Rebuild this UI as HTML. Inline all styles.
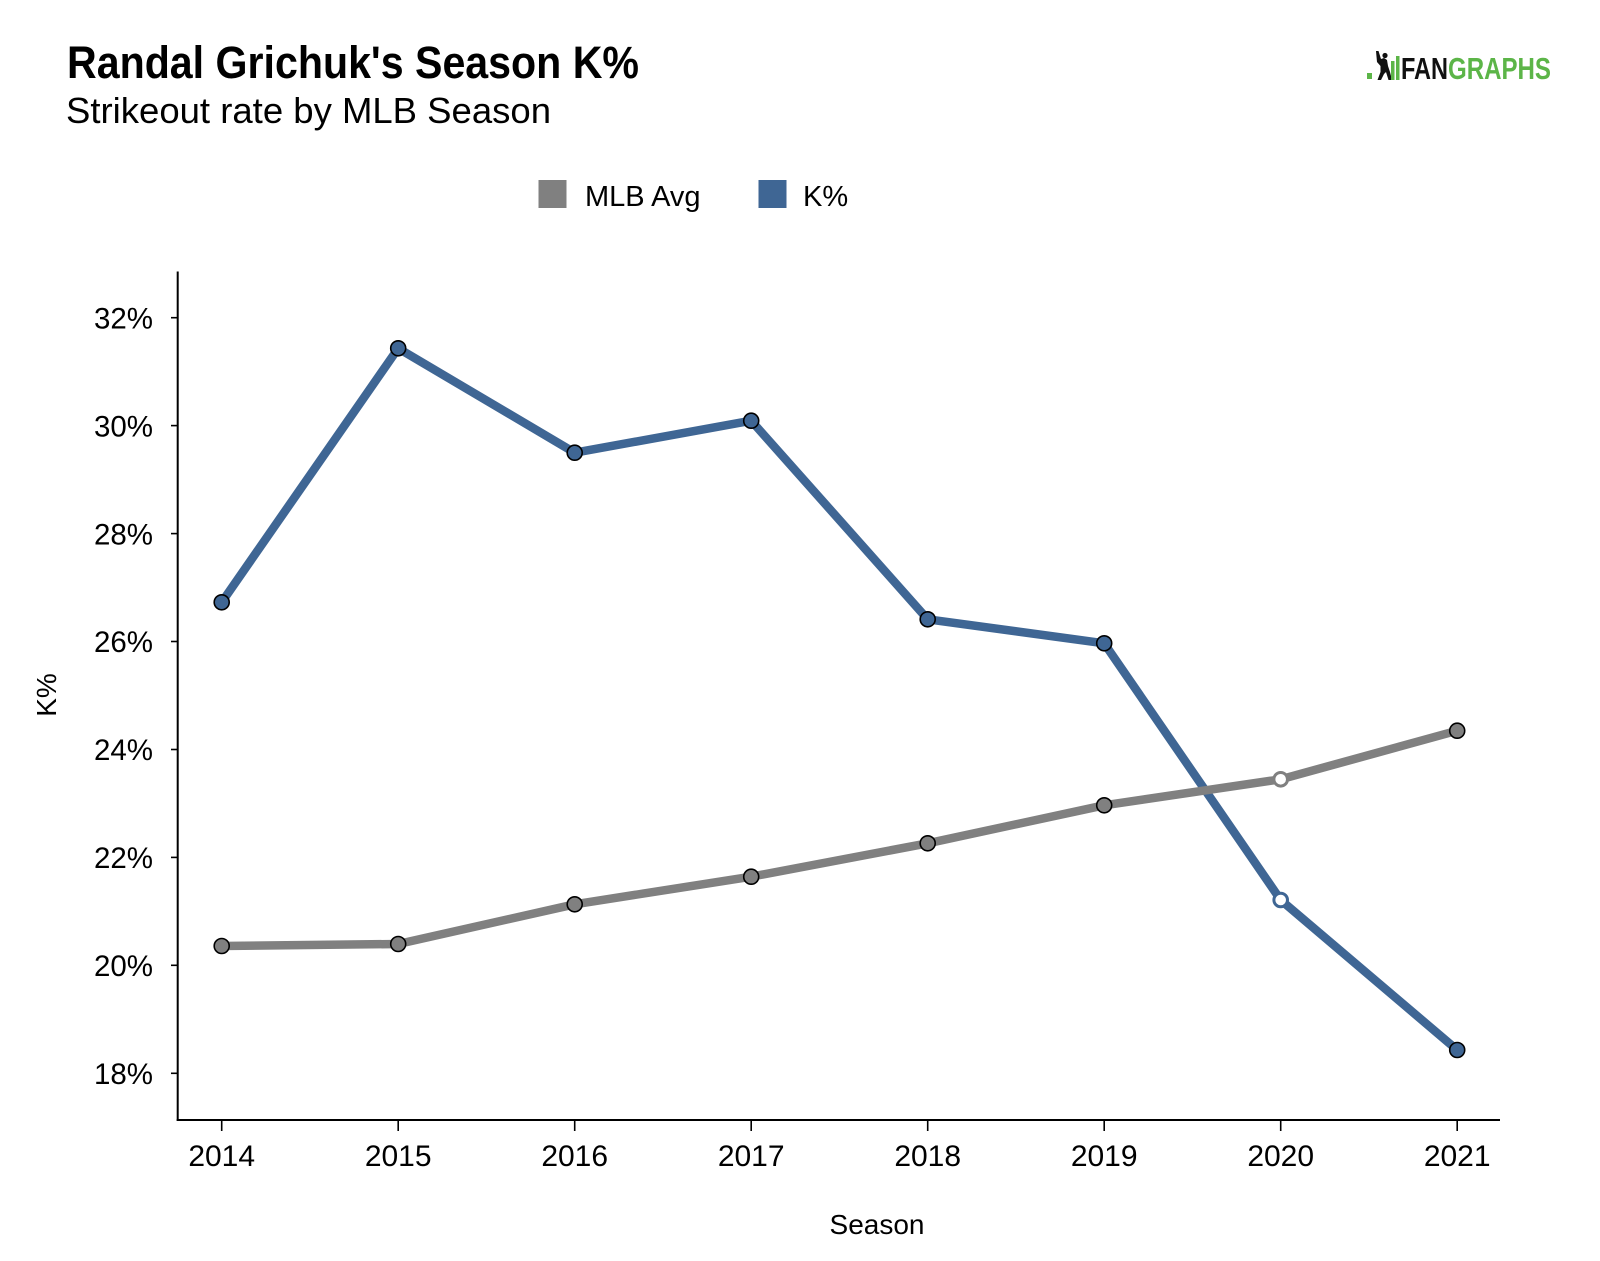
<!DOCTYPE html>
<html>
<head>
<meta charset="utf-8">
<style>
  html, body { margin: 0; padding: 0; background: #ffffff; }
  body { width: 1600px; height: 1261px; overflow: hidden; }
  svg { display: block; }
  text { font-family: "Liberation Sans", Arial, sans-serif; fill: #000; }
</style>
</head>
<body>
<svg width="1600" height="1261" viewBox="0 0 1600 1261" xmlns="http://www.w3.org/2000/svg">
  <rect x="0" y="0" width="1600" height="1261" fill="#ffffff"/>

  <!-- Title -->
  <text x="67" y="78" font-size="45" font-weight="bold" textLength="572" lengthAdjust="spacingAndGlyphs">Randal Grichuk's Season K%</text>
  <text x="66" y="123" font-size="36" textLength="485" lengthAdjust="spacingAndGlyphs">Strikeout rate by MLB Season</text>

  <!-- FanGraphs logo -->
  <g>
    <rect x="1367" y="73" width="5" height="6" fill="#5cb548"/>
    <path d="M1376 51 L1378.5 51 L1381 59 L1384 58 L1387 60 L1388 66 L1390 72 L1392 80 L1388.5 80 L1386 72 L1384 74 L1381 80 L1377.5 80 L1380.5 72 L1380.5 66 L1377 62 Z" fill="#111"/>
    <circle cx="1385" cy="55.5" r="2.6" fill="#111"/>
    <rect x="1391" y="61" width="3.5" height="19" fill="#5cb548"/>
    <rect x="1396" y="56" width="3.5" height="24" fill="#5cb548"/>
    <text x="1401" y="79" font-size="31" font-weight="bold" textLength="47" lengthAdjust="spacingAndGlyphs" style="fill:#111">FAN</text>
    <text x="1448" y="79" font-size="31" font-weight="bold" textLength="103" lengthAdjust="spacingAndGlyphs" style="fill:#5cb548">GRAPHS</text>
  </g>

  <!-- Legend -->
  <rect x="538.5" y="180" width="28" height="28" fill="#808080"/>
  <text x="585" y="206" font-size="29">MLB Avg</text>
  <rect x="758.5" y="180" width="28" height="28" fill="#3f6694"/>
  <text x="803" y="206" font-size="29">K%</text>

  <!-- Axes -->
  <line x1="177.7" y1="271.5" x2="177.7" y2="1121" stroke="#000" stroke-width="2"/>
  <line x1="176.7" y1="1120" x2="1500" y2="1120" stroke="#000" stroke-width="2"/>

  <!-- Y ticks -->
  <g stroke="#000" stroke-width="1.6">
    <line x1="171" y1="317.7" x2="177.7" y2="317.7"/>
    <line x1="171" y1="425.6" x2="177.7" y2="425.6"/>
    <line x1="171" y1="533.6" x2="177.7" y2="533.6"/>
    <line x1="171" y1="641.5" x2="177.7" y2="641.5"/>
    <line x1="171" y1="749.5" x2="177.7" y2="749.5"/>
    <line x1="171" y1="857.4" x2="177.7" y2="857.4"/>
    <line x1="171" y1="965.3" x2="177.7" y2="965.3"/>
    <line x1="171" y1="1073.3" x2="177.7" y2="1073.3"/>
  </g>
  <g font-size="29.5" text-anchor="end">
    <text x="153" y="328.4">32%</text>
    <text x="153" y="436.3">30%</text>
    <text x="153" y="544.3">28%</text>
    <text x="153" y="652.2">26%</text>
    <text x="153" y="760.2">24%</text>
    <text x="153" y="868.1">22%</text>
    <text x="153" y="976.0">20%</text>
    <text x="153" y="1084.0">18%</text>
  </g>

  <!-- X ticks -->
  <g stroke="#000" stroke-width="1.6">
    <line x1="221.7" y1="1120" x2="221.7" y2="1131"/>
    <line x1="398.2" y1="1120" x2="398.2" y2="1131"/>
    <line x1="574.7" y1="1120" x2="574.7" y2="1131"/>
    <line x1="751.2" y1="1120" x2="751.2" y2="1131"/>
    <line x1="927.7" y1="1120" x2="927.7" y2="1131"/>
    <line x1="1104.2" y1="1120" x2="1104.2" y2="1131"/>
    <line x1="1280.7" y1="1120" x2="1280.7" y2="1131"/>
    <line x1="1457.2" y1="1120" x2="1457.2" y2="1131"/>
  </g>
  <g font-size="30" text-anchor="middle">
    <text x="221.7" y="1166">2014</text>
    <text x="398.2" y="1166">2015</text>
    <text x="574.7" y="1166">2016</text>
    <text x="751.2" y="1166">2017</text>
    <text x="927.7" y="1166">2018</text>
    <text x="1104.2" y="1166">2019</text>
    <text x="1280.7" y="1166">2020</text>
    <text x="1457.2" y="1166">2021</text>
  </g>

  <!-- Axis titles -->
  <text x="877" y="1234" font-size="28" text-anchor="middle">Season</text>
  <text transform="translate(56,695) rotate(-90)" font-size="28" text-anchor="middle">K%</text>

  <!-- K% line -->
  <polyline fill="none" stroke="#3f6694" stroke-width="8.5" stroke-linejoin="round" stroke-linecap="round"
    points="221.7,602.3 398.2,348.3 574.7,452.7 751.2,420.7 927.7,619.3 1104.2,643.3 1280.7,900 1457.2,1050"/>
  <!-- MLB Avg line -->
  <polyline fill="none" stroke="#808080" stroke-width="8.5" stroke-linejoin="round" stroke-linecap="round"
    points="221.7,946 398.2,944 574.7,904.3 751.2,876.7 927.7,843.3 1104.2,805.3 1280.7,779.3 1457.2,730.7"/>

  <!-- K% markers -->
  <g fill="#3f6694" stroke="#000" stroke-width="1.6">
    <circle cx="221.7" cy="602.3" r="7.5"/>
    <circle cx="398.2" cy="348.3" r="7.5"/>
    <circle cx="574.7" cy="452.7" r="7.5"/>
    <circle cx="751.2" cy="420.7" r="7.5"/>
    <circle cx="927.7" cy="619.3" r="7.5"/>
    <circle cx="1104.2" cy="643.3" r="7.5"/>
    <circle cx="1457.2" cy="1050" r="7.5"/>
  </g>
  <circle cx="1280.7" cy="900" r="6.8" fill="#ffffff" stroke="#3f6694" stroke-width="3"/>

  <!-- MLB markers -->
  <g fill="#808080" stroke="#000" stroke-width="1.6">
    <circle cx="221.7" cy="946" r="7.5"/>
    <circle cx="398.2" cy="944" r="7.5"/>
    <circle cx="574.7" cy="904.3" r="7.5"/>
    <circle cx="751.2" cy="876.7" r="7.5"/>
    <circle cx="927.7" cy="843.3" r="7.5"/>
    <circle cx="1104.2" cy="805.3" r="7.5"/>
    <circle cx="1457.2" cy="730.7" r="7.5"/>
  </g>
  <circle cx="1280.7" cy="779.3" r="6.8" fill="#ffffff" stroke="#808080" stroke-width="3"/>
</svg>
</body>
</html>
